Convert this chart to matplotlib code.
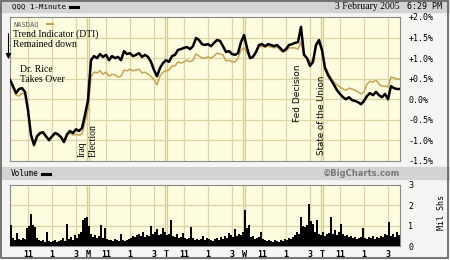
import numpy as np
import matplotlib.pyplot as plt
from matplotlib.patches import Rectangle

# QQQ 1-minute chart, Fri 9:30 -> Thu 16:00, read every 15 minutes (% change)
qqq_pct = [0.47, 0.32, 0.15, 0.25, 0.27, 0.18, -0.26, -0.87, -1.11, -0.90,
           -0.82, -0.80, -0.90, -0.99, -0.90, -0.82, -0.85, -0.92, -1.04, -0.85,
           -0.77, -0.82, -0.73, -0.77, -0.70, -0.38, -0.02, 0.95, 1.05, 1.00,
           1.10, 1.03, 1.08, 0.95, 1.05, 1.00, 1.03, 0.95, 1.17, 1.10,
           1.12, 1.05, 1.08, 1.12, 1.03, 1.08, 1.03, 0.91, 0.71, 0.56,
           0.76, 0.88, 0.95, 0.91, 1.05, 1.08, 1.20, 1.22, 1.25, 1.27,
           1.22, 1.29, 1.49, 1.44, 1.34, 1.32, 1.34, 1.29, 1.37, 1.44,
           1.42, 1.29, 1.15, 1.17, 1.10, 1.08, 1.12, 1.39, 1.56, 1.25,
           1.00, 1.03, 1.15, 1.32, 1.34, 1.29, 1.34, 1.32, 1.29, 1.32,
           1.25, 1.17, 1.22, 1.32, 1.34, 1.37, 1.39, 1.76, 1.08, 1.00,
           0.81, 0.91, 1.32, 1.44, 1.20, 0.76, 0.59, 0.47, 0.35, 0.22,
           0.13, 0.05, 0.00, 0.05, -0.02, -0.04, -0.07, -0.12, -0.04, 0.08,
           0.15, 0.10, 0.18, 0.10, 0.05, 0.13, 0.00, 0.32, 0.27, 0.25, 0.25]

nasdaq_pct = [0.42, 0.27, 0.10, 0.08, 0.15, 0.13, -0.31, -0.90, -1.14, -0.92,
              -0.85, -0.82, -0.92, -1.02, -0.92, -0.85, -0.87, -0.94, -1.04, -0.90,
              -0.82, -0.87, -0.85, -0.87, -0.85, -0.55, -0.26, 0.54, 0.66, 0.64,
              0.69, 0.61, 0.66, 0.56, 0.61, 0.59, 0.54, 0.56, 0.71, 0.69,
              0.73, 0.69, 0.71, 0.73, 0.64, 0.66, 0.61, 0.56, 0.47, 0.35,
              0.56, 0.66, 0.69, 0.71, 0.81, 0.81, 0.91, 0.88, 0.91, 0.95,
              0.91, 0.95, 1.10, 1.05, 1.00, 1.00, 1.03, 1.00, 1.05, 1.12,
              1.10, 1.08, 0.93, 0.95, 0.91, 0.91, 1.00, 1.20, 1.25, 1.12,
              1.03, 1.05, 1.12, 1.27, 1.29, 1.27, 1.29, 1.27, 1.25, 1.27,
              1.20, 1.15, 1.17, 1.25, 1.25, 1.25, 1.22, 1.39, 1.10, 1.00,
              0.91, 0.98, 1.29, 1.37, 1.15, 0.81, 0.66, 0.52, 0.42, 0.35,
              0.30, 0.25, 0.22, 0.27, 0.25, 0.22, 0.18, 0.13, 0.18, 0.37,
              0.44, 0.42, 0.47, 0.37, 0.32, 0.32, 0.30, 0.54, 0.52, 0.49, 0.49]

# volume in millions of shares, 10 minute bins
volume = [1.03, 0.40, 0.30, 0.64, 0.35, 0.30, 0.40, 0.35, 0.90, 1.00,
          1.58, 1.05, 0.95, 0.40, 0.30, 0.25, 0.30, 0.20, 0.70, 0.25,
          0.20, 0.25, 0.30, 0.20, 0.25, 0.30, 0.40, 0.25, 1.08, 0.35,
          0.45, 0.30, 0.55, 0.40, 0.60, 0.70, 1.28, 1.38, 1.43, 1.00,
          0.60, 0.45, 0.55, 0.40, 0.50, 1.03, 0.40, 0.90, 0.35, 0.30,
          0.30, 0.25, 0.35, 0.30, 0.25, 0.60, 0.30, 0.25, 0.30, 0.35,
          0.40, 0.50, 0.45, 0.55, 0.60, 0.50, 0.70, 0.45, 0.55, 0.50,
          0.99, 0.60, 0.70, 0.85, 0.55, 0.60, 0.90, 0.70, 0.55, 0.60,
          1.28, 0.50, 0.45, 0.60, 0.40, 0.45, 0.66, 0.40, 0.35, 0.40,
          0.95, 0.40, 0.30, 0.35, 0.30, 0.35, 0.50, 0.30, 0.40, 0.35,
          0.30, 0.25, 0.35, 0.40, 0.30, 0.45, 0.35, 0.50, 0.40, 0.64,
          0.55, 0.45, 0.84, 0.50, 0.60, 0.55, 0.70, 1.77, 0.90, 1.05,
          0.45, 0.50, 0.35, 0.40, 0.45, 0.70, 0.35, 0.30, 0.25, 0.30,
          0.25, 0.20, 0.30, 0.25, 0.20, 0.30, 0.25, 0.35, 0.30, 0.40,
          0.35, 0.45, 0.55, 0.70, 0.60, 1.43, 1.00, 0.95, 1.05, 2.07,
          1.25, 1.10, 0.70, 1.28, 0.60, 0.55, 0.70, 0.50, 0.60, 0.65,
          1.43, 0.60, 0.80, 0.55, 0.70, 1.08, 0.60, 0.50, 0.55, 0.45,
          0.50, 0.40, 0.45, 0.35, 0.40, 0.45, 0.90, 0.40, 0.35, 0.45,
          0.40, 0.50, 0.35, 0.45, 0.40, 0.50, 0.45, 0.60, 0.55, 1.20,
          0.50, 0.60, 0.45, 0.70, 0.55]

day_letters = ['', 'M', 'T', 'W', 'T']
hour_labels = ['11', '1', '3']
hour_offsets = [90, 210, 330]
price_ticks = [2.0, 1.5, 1.0, 0.5, 0.0, -0.5, -1.0, -1.5]
price_labels = ['+2.0%', '+1.5%', '+1.0%', '+0.5%', '0.0%', '-0.5%', '-1.0%', '-1.5%']
vol_ticks = [0, 1, 2, 3]

day_len = 390
t_price = np.arange(len(qqq_pct)) * 15
t_vol = np.arange(len(volume)) * 10 + 5

W, H = 450, 260
bg = '#FFFDE0'
grid_c = '#DAD5A5'
tan = '#C6A253'

def fx(x):
    return x / W

def fy(y):
    return 1 - y / H

fig = plt.figure(figsize=(4.5, 2.6), dpi=100)
fig.patch.set_facecolor('#F5F5F3')

# grey bands
fig.add_artist(Rectangle((0, fy(12)), 1, 12 / H, transform=fig.transFigure, color='#D3D3D3', zorder=0))
fig.add_artist(Rectangle((0, fy(179)), 1, 12 / H, transform=fig.transFigure, color='#D3D3D3', zorder=0))
# outer frame
fig.add_artist(Rectangle((0.002, 0.006), 0.994, 0.992, transform=fig.transFigure, fill=False,
                         edgecolor='#606060', linewidth=1.2, zorder=0))

ax_p = fig.add_axes([fx(10), fy(161), 390 / W, 144 / H])
ax_v = fig.add_axes([fx(10), fy(246), 390 / W, 61 / H])

xticks = []
xlabels = []
for d in range(5):
    start = d * day_len
    if d > 0:
        xticks.append(start)
        xlabels.append(day_letters[d])
    for off, lab in zip(hour_offsets, hour_labels):
        xticks.append(start + off)
        xlabels.append(lab)

for ax in (ax_p, ax_v):
    ax.set_facecolor(bg)
    ax.set_xlim(0, 5 * day_len)
    # day starts are drawn as a double line
    for d in range(1, 5):
        ax.axvline(d * day_len - 4, color='#D2CD98', linewidth=0.9, zorder=1)
        ax.axvline(d * day_len + 4, color='#D2CD98', linewidth=0.9, zorder=1)
    for d in range(5):
        for off in hour_offsets:
            ax.axvline(d * day_len + off, color=grid_c, linewidth=0.9, zorder=1)
    for s in ax.spines.values():
        s.set_color('#8A8A8A')
        s.set_linewidth(0.8)
    ax.yaxis.tick_right()
    ax.tick_params(length=0, labelsize=6, pad=6)

# price panel
ax_p.set_ylim(-1.5, 2.0)
for v in price_ticks[1:-1]:
    ax_p.axhline(v, color=grid_c, linewidth=0.9, zorder=1)
ax_p.plot(t_price, nasdaq_pct, color=tan, linewidth=1.1, zorder=3)
ax_p.plot(t_price, qqq_pct, color='black', linewidth=1.8, zorder=4)
ax_p.set_yticks(price_ticks, price_labels, family='DejaVu Sans Mono', fontsize=6)
ax_p.set_xticks([])

# volume panel
ax_v.set_ylim(0, 3)
for v in vol_ticks[1:-1]:
    ax_v.axhline(v, color=grid_c, linewidth=0.9, zorder=1)
ax_v.bar(t_vol, volume, width=10, color='black', linewidth=0, zorder=3)
ax_v.set_yticks(vol_ticks, [str(v) for v in vol_ticks], family='DejaVu Sans Mono', fontsize=6)
ax_v.set_xticks(xticks, xlabels, family='DejaVu Sans Mono', fontsize=6, fontweight='bold')
ax_v.tick_params(axis='x', pad=3)

# header texts
fig.text(fx(12), fy(6.5), 'QQQ 1-Minute', family='DejaVu Sans Mono', fontsize=5.3, va='center')
fig.add_artist(plt.Line2D([fx(70), fx(78)], [fy(6.5), fy(6.5)], color='black', linewidth=2.2))
fig.text(fx(400), fy(6.5), '3 February 2005', family='Liberation Serif', fontsize=7, va='center', ha='right')
fig.text(fx(407), fy(6.5), '6:29 PM', family='DejaVu Sans Mono', fontsize=6, va='center')
fig.text(fx(11), fy(173.5), 'Volume', family='DejaVu Sans Mono', fontsize=5.5, va='center')
fig.add_artist(plt.Line2D([fx(42), fx(50)], [fy(174), fy(174)], color='black', linewidth=2.2))
fig.text(fx(400), fy(173.5), '\u00a9BigCharts.com', family='DejaVu Sans', fontsize=6, va='center',
         ha='right', color='#777777', fontweight='bold')
fig.text(fx(441), fy(213), 'Mil Shs', family='DejaVu Sans Mono', fontsize=6, va='center', ha='center',
         rotation=90)

# legend-ish label in the price panel
fig.text(fx(14), fy(24), 'NASDAQ', family='DejaVu Sans Mono', fontsize=5, va='center', color='#555555')
fig.add_artist(plt.Line2D([fx(47), fx(53)], [fy(24), fy(24)], color=tan, linewidth=1.5))

# annotations
serif = 'Liberation Serif'
fig.text(fx(13), fy(34), 'Trend Indicator (DTI)', family=serif, fontsize=7, va='center')
fig.text(fx(13), fy(44), 'Remained down', family=serif, fontsize=7, va='center')
fig.text(fx(20), fy(70), 'Dr. Rice', family=serif, fontsize=7, va='center')
fig.text(fx(20), fy(80), 'Takes Over', family=serif, fontsize=7, va='center')
ax_p.annotate('', xy=(fx(8.5), fy(62)), xytext=(fx(8.5), fy(31)), xycoords='figure fraction',
              textcoords='figure fraction',
              arrowprops=dict(arrowstyle='-|>', color='black', linewidth=0.8, mutation_scale=8))
fig.text(fx(82), fy(157), 'Iraq', family=serif, fontsize=7, va='bottom', ha='center', rotation=90)
fig.text(fx(93), fy(157), 'Election', family=serif, fontsize=7, va='bottom', ha='center', rotation=90)
fig.text(fx(298), fy(122), 'Fed Decision', family='DejaVu Sans', fontsize=6.5, va='bottom', ha='center',
         rotation=90)
fig.text(fx(322), fy(155), 'State of the Union', family='DejaVu Sans', fontsize=6.3, va='bottom', ha='center',
         rotation=90)

fig.savefig('out.png', dpi=100, facecolor=fig.get_facecolor())
